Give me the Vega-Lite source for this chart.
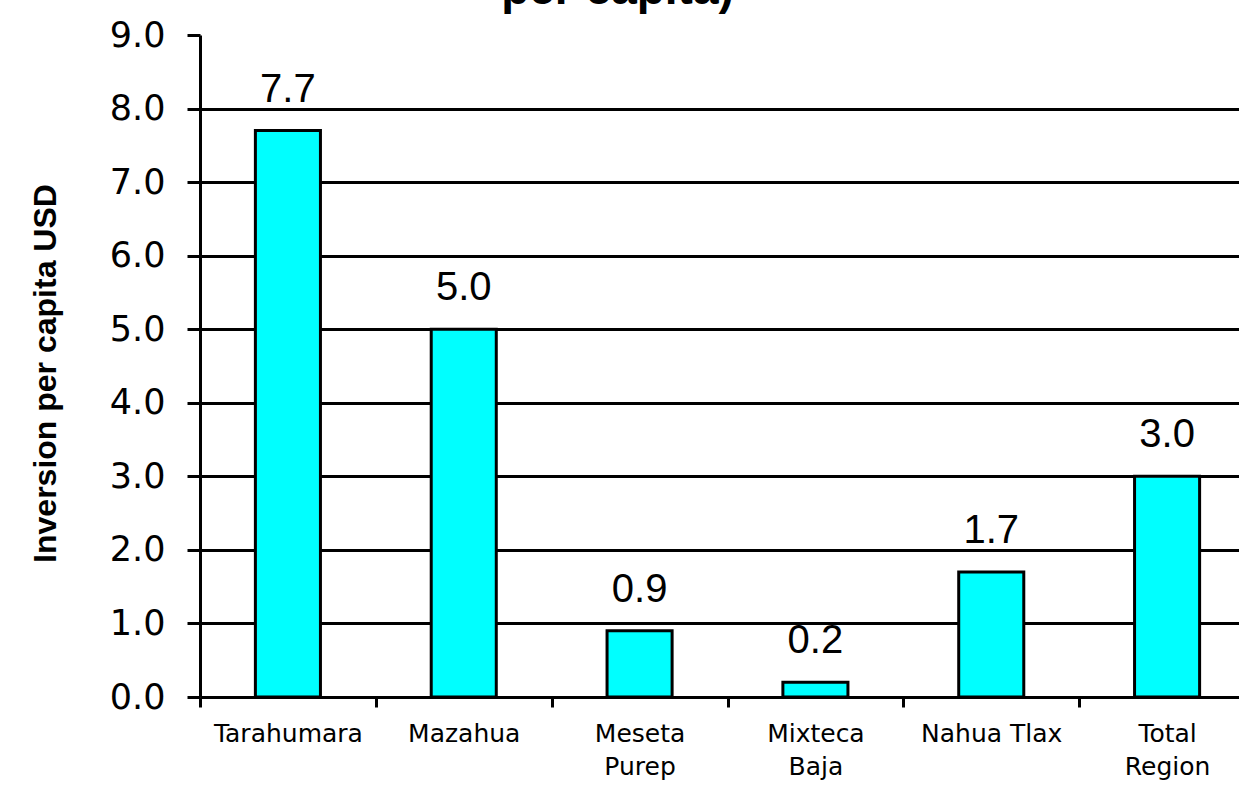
{
  "$schema": "https://vega.github.io/schema/vega-lite/v6.json",
  "autosize": {"type": "none"},
  "width": 1039,
  "height": 662,
  "padding": {"left": 200, "top": 35, "right": 0, "bottom": 90},
  "background": "white",
  "title": {
    "text": "per capita)",
    "font": "Liberation Sans",
    "fontSize": 46,
    "fontWeight": "bold",
    "color": "black",
    "anchor": "middle",
    "frame": "group",
    "baseline": "alphabetic",
    "offset": 0,
    "dy": 32,
    "dx": -102
  },
  "data": {
    "values": [
      {"region": "Tarahumara", "value": 7.7},
      {"region": "Mazahua", "value": 5.0},
      {"region": "Meseta Purep", "value": 0.9},
      {"region": "Mixteca Baja", "value": 0.2},
      {"region": "Nahua Tlax", "value": 1.7},
      {"region": "Total Region", "value": 3.0}
    ]
  },
  "encoding": {
    "x": {
      "field": "region",
      "type": "nominal",
      "sort": null,
      "scale": {"range": [0, 1055], "paddingInner": 0, "paddingOuter": 0},
      "axis": {
        "title": null,
        "tickBand": "extent",
        "labelAngle": 0,
        "labelFont": "DejaVu Sans",
        "labelFontSize": 25,
        "labelColor": "black",
        "labelBaseline": "top",
        "labelPadding": 14,
        "labelLineHeight": 33,
        "labelOverlap": false,
        "labelBound": false,
        "labelExpr": "datum.label == 'Meseta Purep' ? ['Meseta', 'Purep'] : datum.label == 'Mixteca Baja' ? ['Mixteca', 'Baja'] : datum.label == 'Total Region' ? ['Total', 'Region'] : datum.label",
        "tickSize": 10,
        "tickWidth": 3,
        "tickColor": "black",
        "domainColor": "black",
        "domainWidth": 3,
        "grid": false
      }
    },
    "y": {
      "field": "value",
      "type": "quantitative",
      "scale": {"domain": [0, 9], "nice": false, "zero": true},
      "axis": {
        "title": "Inversion per capita USD",
        "titleFont": "Liberation Sans",
        "titleFontSize": 32,
        "titleFontWeight": "bold",
        "titleColor": "black",
        "titleAngle": 270,
        "titleBaseline": "middle",
        "titleAlign": "center",
        "titleX": -155,
        "titleY": 338,
        "values": [0, 1, 2, 3, 4, 5, 6, 7, 8, 9],
        "format": ".1f",
        "labelFont": "DejaVu Sans",
        "labelFontSize": 35,
        "labelColor": "black",
        "labelPadding": 22,
        "tickSize": 13,
        "tickWidth": 3,
        "tickColor": "black",
        "domainColor": "black",
        "domainWidth": 3,
        "grid": true,
        "gridColor": "black",
        "gridWidth": 3,
        "gridOpacity": {"condition": {"test": "datum.value >= 9 || datum.value <= 0", "value": 0}, "value": 1}
      }
    }
  },
  "layer": [
    {
      "mark": {"type": "bar", "color": "#00FFFF", "stroke": "black", "strokeWidth": 3, "width": {"band": 0.37}}
    },
    {
      "mark": {"type": "text", "font": "Liberation Sans", "fontSize": 40, "color": "black", "baseline": "alphabetic", "dy": -29},
      "encoding": {"text": {"field": "value", "type": "quantitative", "format": ".1f"}}
    }
  ],
  "config": {"view": {"stroke": null}}
}
